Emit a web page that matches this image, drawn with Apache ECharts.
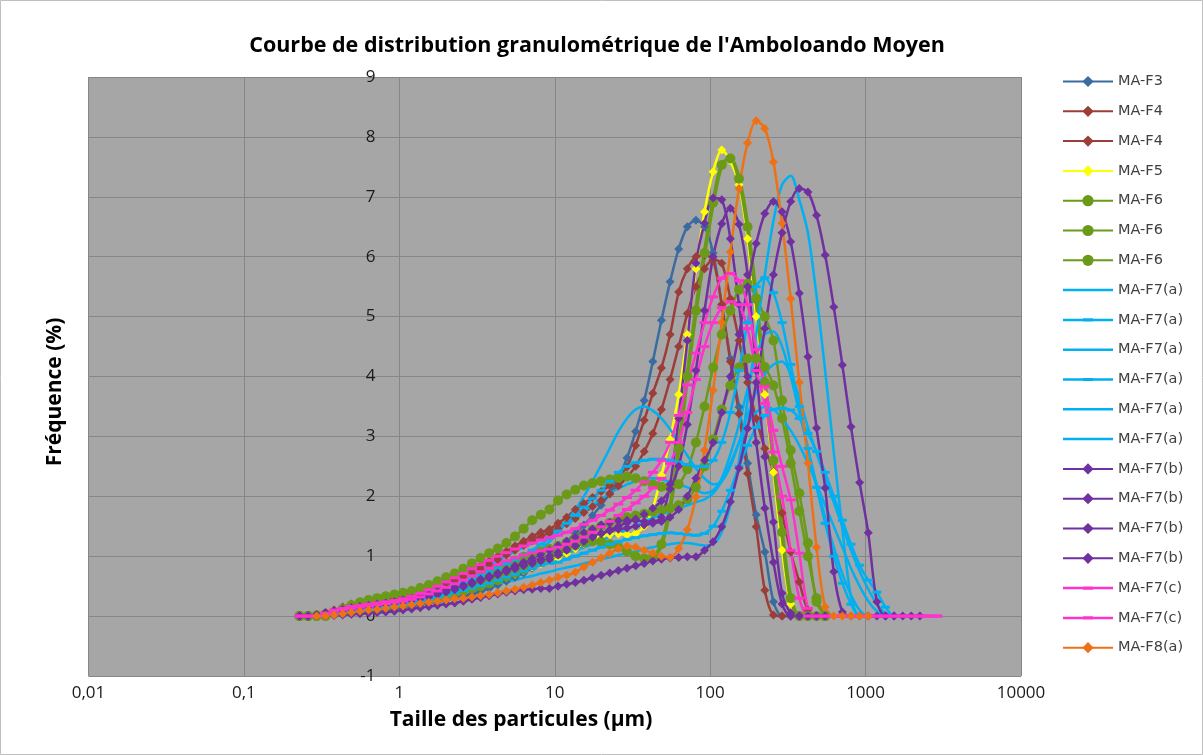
<!DOCTYPE html>
<html>
<head>
<meta charset="utf-8">
<script src="https://cdn.jsdelivr.net/npm/echarts@6.0.0/dist/echarts.min.js"></script>
<style>
  html, body { margin: 0; padding: 0; background: #ffffff; }
  #chart { width: 1203px; height: 755px; }
</style>
</head>
<body>
<div id="chart"></div>
<script>
// Particle size classes (µm), geometric bin centres, 0.228 µm -> 2887 µm
const sizes = [
  0.228, 0.259, 0.294, 0.335, 0.380, 0.432, 0.491, 0.558, 0.634, 0.720,
  0.818, 0.929, 1.056, 1.200, 1.363, 1.548, 1.759, 1.999, 2.271, 2.580,
  2.931, 3.331, 3.784, 4.299, 4.884, 5.549, 6.304, 7.163, 8.137, 9.245,
  10.50, 11.93, 13.56, 15.40, 17.50, 19.88, 22.59, 25.66, 29.16, 33.13,
  37.64, 42.76, 48.59, 55.21, 62.72, 71.27, 80.97, 91.99, 104.5, 118.7,
  134.9, 153.3, 174.1, 197.8, 224.8, 255.4, 290.1, 329.7, 374.6, 425.6,
  483.5, 549.4, 624.2, 709.2, 805.7, 915.4, 1040, 1182, 1343, 1525,
  1733, 1969, 2237, 2541, 2887
];

// Frequency (%) per size class, one array per sample
const maF3 = [
  0,0,0,0.01,0.02,0.03,0.04,0.05,0.06,0.08,
  0.1,0.12,0.15,0.17,0.19,0.22,0.24,0.27,0.3,0.33,
  0.37,0.41,0.46,0.52,0.58,0.65,0.72,0.8,0.9,1.0,
  1.12,1.25,1.38,1.52,1.68,1.85,2.05,2.3,2.64,3.08,
  3.6,4.25,4.94,5.58,6.13,6.5,6.61,6.5,6.06,5.2,
  4.3,3.49,2.55,1.69,1.07,0.24,0,0,0,0,
  0,0
];
const maF4a = [
  0,0,0.02,0.06,0.1,0.15,0.2,0.23,0.26,0.29,
  0.32,0.35,0.38,0.42,0.46,0.51,0.56,0.61,0.66,0.72,
  0.78,0.85,0.92,1.0,1.08,1.17,1.25,1.33,1.4,1.45,
  1.55,1.65,1.78,1.88,1.98,2.08,2.18,2.33,2.49,2.85,
  3.27,3.72,4.14,4.7,5.41,5.8,6.0,6.03,5.94,5.2,
  4.25,3.38,2.38,1.49,0.43,0.02,0,0,0,0,
  0,0
];
const maF4b = [
  0,0,0.01,0.04,0.08,0.12,0.16,0.19,0.22,0.25,
  0.28,0.31,0.34,0.37,0.41,0.45,0.5,0.55,0.6,0.66,
  0.72,0.79,0.86,0.94,1.02,1.1,1.18,1.26,1.33,1.39,
  1.46,1.54,1.63,1.73,1.83,1.93,2.04,2.17,2.32,2.5,
  2.75,3.05,3.45,3.95,4.5,5.05,5.5,5.8,5.95,5.89,
  5.3,4.6,3.9,3.3,2.8,2.41,1.72,1.07,0.57,0.1,
  0,0
];
const maF5 = [
  0,0,0,0.02,0.04,0.06,0.08,0.1,0.12,0.14,
  0.16,0.18,0.2,0.22,0.25,0.28,0.31,0.34,0.38,0.42,
  0.46,0.5,0.55,0.6,0.65,0.7,0.76,0.82,0.87,0.92,
  0.98,1.05,1.13,1.21,1.28,1.33,1.36,1.37,1.36,1.38,
  1.5,1.8,2.35,2.95,3.7,4.7,5.8,6.75,7.42,7.78,
  7.6,7.2,6.3,5.0,3.7,2.4,1.1,0.2,0,0,
  0,0
];
const maF6a = [
  0,0,0.01,0.03,0.05,0.07,0.09,0.11,0.13,0.15,
  0.17,0.19,0.21,0.24,0.27,0.3,0.33,0.36,0.39,0.42,
  0.46,0.5,0.55,0.6,0.66,0.72,0.78,0.85,0.9,0.96,
  1.04,1.12,1.18,1.23,1.25,1.24,1.2,1.15,1.08,1.0,
  0.96,0.98,1.2,1.8,2.8,4.0,5.1,6.06,6.9,7.53,
  7.64,7.3,6.5,5.3,3.9,2.6,1.4,0.3,0,0,
  0,0
];
const maF6b = [
  0,0,0,0,0.05,0.12,0.18,0.23,0.27,0.3,
  0.33,0.36,0.39,0.42,0.47,0.52,0.58,0.65,0.71,0.79,
  0.88,0.97,1.05,1.13,1.22,1.33,1.46,1.6,1.69,1.78,
  1.93,2.03,2.11,2.18,2.22,2.25,2.28,2.31,2.33,2.3,
  2.25,2.2,2.16,2.14,2.2,2.45,2.9,3.5,4.15,4.7,
  5.1,5.45,5.55,5.3,5.0,4.6,3.6,2.77,2.05,1.22,
  0.24,0
];
const maF6c = [
  0,0,0.01,0.03,0.05,0.08,0.1,0.12,0.14,0.16,
  0.18,0.2,0.23,0.26,0.29,0.33,0.37,0.42,0.47,0.53,
  0.59,0.65,0.72,0.79,0.86,0.93,0.99,1.04,1.08,1.12,
  1.17,1.23,1.3,1.37,1.44,1.5,1.56,1.61,1.65,1.68,
  1.71,1.74,1.77,1.8,1.85,1.95,2.15,2.5,2.95,3.45,
  3.85,4.15,4.3,4.3,4.16,3.85,3.3,2.55,1.75,1.0,
  0.3,0
];
const maF7a1 = [
  0,0,0,0.02,0.04,0.06,0.08,0.1,0.12,0.14,
  0.16,0.18,0.2,0.22,0.25,0.28,0.3,0.33,0.36,0.4,
  0.43,0.46,0.5,0.53,0.57,0.6,0.64,0.67,0.71,0.74,
  0.78,0.81,0.84,0.88,0.91,0.95,0.98,1.02,1.05,1.08,
  1.12,1.15,1.18,1.2,1.22,1.22,1.2,1.18,1.2,1.4,
  1.85,2.6,3.6,4.7,5.7,6.6,7.2,7.35,6.95,6.4,
  5.35,4.1,2.74,1.45,0.32,0,0,0
];
const maF7a2 = [
  0,0,0,0.02,0.05,0.08,0.1,0.12,0.14,0.16,
  0.18,0.21,0.24,0.27,0.31,0.35,0.4,0.45,0.5,0.56,
  0.62,0.68,0.74,0.8,0.87,0.94,1.02,1.1,1.2,1.3,
  1.42,1.55,1.68,1.82,1.96,2.1,2.25,2.4,2.5,2.56,
  2.6,2.62,2.62,2.6,2.57,2.53,2.5,2.5,2.6,2.9,
  3.4,4.1,4.9,5.5,5.65,5.4,4.9,4.2,3.5,2.8,
  2.15,1.55,1.0,0.55,0.2,0,0,0
];
const maF7a3 = [
  0,0,0.01,0.03,0.05,0.08,0.1,0.12,0.14,0.16,
  0.18,0.2,0.22,0.25,0.28,0.31,0.35,0.39,0.43,0.48,
  0.53,0.59,0.66,0.73,0.8,0.88,0.96,1.04,1.12,1.24,
  1.4,1.58,1.78,2.0,2.25,2.52,2.8,3.08,3.3,3.45,
  3.5,3.43,3.3,3.12,2.9,2.68,2.47,2.3,2.2,2.25,
  2.5,2.9,3.35,3.75,4.05,4.2,4.25,4.05,3.65,3.15,
  2.72,2.3,1.9,1.5,1.1,0.75,0.45,0.2,0.05,0,
  0
];
const maF7a4 = [
  0,0,0,0.02,0.04,0.06,0.08,0.1,0.12,0.14,
  0.16,0.18,0.2,0.23,0.26,0.29,0.32,0.35,0.39,0.43,
  0.47,0.51,0.55,0.6,0.65,0.7,0.75,0.8,0.85,0.88,
  0.9,0.95,1.0,1.05,1.1,1.15,1.2,1.24,1.28,1.31,
  1.34,1.36,1.38,1.39,1.38,1.36,1.35,1.38,1.5,1.75,
  2.1,2.5,2.85,3.15,3.35,3.45,3.47,3.44,3.3,3.05,
  2.75,2.4,2.0,1.6,1.2,0.85,0.6,0.4,0.15,0,
  0
];
const maF7a5 = [
  0,0,0,0.02,0.04,0.06,0.08,0.1,0.12,0.14,
  0.16,0.19,0.22,0.25,0.29,0.33,0.37,0.42,0.47,0.52,
  0.57,0.62,0.67,0.72,0.77,0.81,0.85,0.88,0.91,0.95,
  1.0,1.05,1.1,1.15,1.2,1.26,1.32,1.38,1.45,1.51,
  1.58,1.64,1.7,1.75,1.8,1.85,1.9,1.95,2.05,2.25,
  2.55,2.9,3.2,3.4,3.5,3.45,3.3,3.1,2.85,2.55,
  2.2,1.85,1.5,1.15,0.8,0.5,0.25,0.08,0,0,
  0
];
const maF7a6 = [
  0,0,0,0.03,0.06,0.09,0.12,0.15,0.18,0.2,
  0.22,0.25,0.28,0.31,0.35,0.4,0.45,0.51,0.57,0.64,
  0.71,0.78,0.85,0.93,1.0,1.08,1.15,1.22,1.29,1.35,
  1.44,1.53,1.62,1.74,1.85,1.95,2.05,2.13,2.2,2.25,
  2.3,2.3,2.28,2.24,2.2,2.15,2.1,2.05,2.1,2.3,
  2.7,3.2,3.8,4.35,4.7,4.75,4.5,4.0,3.4,2.8,
  2.2,1.65,1.15,0.7,0.35,0.1,0,0,0
];
const maF7b1 = [
  0,0,0.02,0.05,0.08,0.11,0.14,0.16,0.18,0.2,
  0.22,0.24,0.27,0.3,0.33,0.36,0.4,0.44,0.48,0.52,
  0.57,0.62,0.67,0.72,0.78,0.84,0.9,0.96,1.03,1.1,
  1.18,1.25,1.32,1.39,1.45,1.52,1.56,1.59,1.6,1.6,
  1.58,1.58,1.65,2.2,3.3,4.6,5.89,6.56,6.98,6.95,
  6.3,5.2,4.0,2.9,1.8,0.9,0.2,0,0,0,
  0,0
];
const maF7b2 = [
  0,0,0.02,0.05,0.08,0.11,0.13,0.15,0.17,0.19,
  0.21,0.23,0.25,0.28,0.31,0.34,0.38,0.42,0.46,0.5,
  0.55,0.6,0.65,0.7,0.75,0.8,0.85,0.9,0.95,1.0,
  1.06,1.12,1.18,1.25,1.32,1.38,1.44,1.5,1.56,1.62,
  1.7,1.8,1.92,2.12,2.5,3.2,4.1,5.1,6.0,6.55,
  6.81,6.54,5.7,4.1,2.66,1.57,0.38,0.05,0,0,
  0,0
];
const maF7b3 = [
  0,0,0.02,0.05,0.07,0.09,0.11,0.13,0.15,0.17,
  0.19,0.21,0.23,0.26,0.29,0.32,0.36,0.4,0.44,0.49,
  0.54,0.59,0.64,0.69,0.74,0.79,0.84,0.88,0.92,0.95,
  1.02,1.1,1.17,1.25,1.32,1.38,1.42,1.45,1.47,1.5,
  1.52,1.55,1.58,1.65,1.78,2.0,2.3,2.6,2.9,3.4,
  4.0,4.7,5.5,6.22,6.72,6.92,6.75,6.25,5.39,4.33,
  3.14,2.14,0.74,0.07,0,0,0,0,0,0
];
const maF7b4 = [
  0,0,0,0,0.01,0.02,0.03,0.04,0.05,0.06,
  0.07,0.08,0.1,0.12,0.14,0.16,0.18,0.2,0.22,0.25,
  0.28,0.31,0.34,0.37,0.4,0.42,0.44,0.45,0.46,0.46,
  0.5,0.53,0.56,0.6,0.64,0.68,0.72,0.76,0.8,0.84,
  0.88,0.92,0.95,0.97,0.98,0.99,0.99,1.1,1.24,1.49,
  1.91,2.47,3.13,3.9,4.8,5.7,6.4,6.92,7.14,7.08,
  6.69,6.03,5.16,4.19,3.16,2.23,1.39,0.24,0,0,
  0,0,0
];
const maF7c1 = [
  0,0,0,0.05,0.1,0.13,0.16,0.18,0.2,0.22,
  0.24,0.26,0.29,0.33,0.38,0.44,0.5,0.57,0.64,0.71,
  0.79,0.86,0.93,1.0,1.06,1.12,1.17,1.22,1.27,1.31,
  1.35,1.4,1.46,1.53,1.6,1.68,1.77,1.87,1.98,2.1,
  2.24,2.4,2.6,2.9,3.35,3.86,4.39,4.9,5.33,5.64,
  5.72,5.6,5.2,4.45,3.83,3.1,2.5,1.94,1.05,0.13,
  0,0,0,0,0,0,0,0,0,0,
  0,0,0,0,0
];
const maF7c2 = [
  0,0,0,0.04,0.08,0.11,0.13,0.15,0.17,0.19,
  0.21,0.23,0.25,0.28,0.32,0.37,0.42,0.48,0.54,0.6,
  0.67,0.74,0.8,0.86,0.92,0.97,1.02,1.06,1.09,1.12,
  1.15,1.2,1.25,1.32,1.4,1.49,1.58,1.68,1.78,1.89,
  2.0,2.14,2.3,2.55,2.9,3.4,3.95,4.5,4.9,5.15,
  5.25,5.2,4.8,4.1,3.55,2.74,2.0,1.1,0.3,0,
  0,0,0,0,0,0,0,0,0,0,
  0,0,0,0,0
];
const maF8a = [
  null,null,0,0,0.02,0.04,0.06,0.08,0.1,0.11,
  0.13,0.15,0.17,0.19,0.21,0.23,0.25,0.27,0.29,0.3,
  0.32,0.34,0.36,0.39,0.42,0.45,0.48,0.52,0.56,0.6,
  0.65,0.68,0.73,0.82,0.9,0.97,1.05,1.13,1.17,1.15,
  1.1,1.05,1.0,0.98,1.13,1.44,1.99,2.77,3.77,4.9,
  6.08,7.14,7.9,8.27,8.14,7.58,6.56,5.3,3.9,2.55,
  1.15,0.15,0,0,0,0,0
];

// Axis ticks
const yTicks = { min: -1, max: 9, step: 1 };
const xTicks = { min: 0.01, max: 10000 };

const FONT = 'Open Sans';
const LEGEND_FONT = 'DejaVu Sans';
const DASH = 'path://M0,0L10,0L10,3L0,3Z';
// Legend keys (50 x 14 box): plain line, and line with a short dash marker
const BOX = 'M0,0h0.05v0.05h-0.05Z M49.95,13.95h0.05v0.05h-0.05Z ';
const LINE_KEY = 'path://' + BOX + 'M0,5.75H50V8.25H0Z';
const DASH_KEY = 'path://' + BOX + 'M0,5.75H20V5.4H30V5.75H50V8.25H30V8.6H20V8.25H0Z';

// Drawing order and look of each sample curve (later ones are drawn on top)
const curves = [
  { name: 'MA-F3',    values: maF3,   color: '#3A6BA1', symbol: 'diamond', size: 9,  width: 2.5 },
  { name: 'MA-F4',    values: maF4a,  color: '#9C3D39', symbol: 'diamond', size: 9,  width: 2.5 },
  { name: 'MA-F4',    values: maF4b,  color: '#9C3D39', symbol: 'diamond', size: 9,  width: 2.5 },
  { name: 'MA-F5',    values: maF5,   color: '#FFFF00', symbol: 'diamond', size: 9,  width: 2.5 },
  { name: 'MA-F6',    values: maF6a,  color: '#6A9A18', symbol: 'circle',  size: 10, width: 4 },
  { name: 'MA-F6',    values: maF6b,  color: '#6A9A18', symbol: 'circle',  size: 10, width: 2.5 },
  { name: 'MA-F6',    values: maF6c,  color: '#6A9A18', symbol: 'circle',  size: 10, width: 2.5 },
  { name: 'MA-F7(a)', values: maF7a1, color: '#00B0F0', symbol: 'none',    size: 0,  width: 2.5 },
  { name: 'MA-F7(a)', values: maF7a2, color: '#00B0F0', symbol: DASH,      size: [9, 3], width: 2.5 },
  { name: 'MA-F7(a)', values: maF7a3, color: '#00B0F0', symbol: 'none',    size: 0,  width: 2.5 },
  { name: 'MA-F7(a)', values: maF7a4, color: '#00B0F0', symbol: DASH,      size: [9, 3], width: 2.5 },
  { name: 'MA-F7(a)', values: maF7a5, color: '#00B0F0', symbol: 'none',    size: 0,  width: 2.5 },
  { name: 'MA-F7(a)', values: maF7a6, color: '#00B0F0', symbol: 'none',    size: 0,  width: 2.5 },
  { name: 'MA-F7(b)', values: maF7b1, color: '#7030A0', symbol: 'diamond', size: 9,  width: 2.5 },
  { name: 'MA-F7(b)', values: maF7b2, color: '#7030A0', symbol: 'diamond', size: 9,  width: 2.5 },
  { name: 'MA-F7(b)', values: maF7b3, color: '#7030A0', symbol: 'diamond', size: 9,  width: 2.5 },
  { name: 'MA-F7(b)', values: maF7b4, color: '#7030A0', symbol: 'diamond', size: 9,  width: 2.5 },
  { name: 'MA-F7(c)', values: maF7c1, color: '#FF33CC', symbol: DASH,      size: [10, 3], width: 2.5 },
  { name: 'MA-F7(c)', values: maF7c2, color: '#FF33CC', symbol: DASH,      size: [10, 3], width: 2.5 },
  { name: 'MA-F8(a)', values: maF8a,  color: '#EE7116', symbol: 'diamond', size: 9,  width: 2.5 }
];

// Legend keys must be unique: repeated sample names get invisible suffixes
const seen = {};
const series = curves.map(c => {
  seen[c.name] = (seen[c.name] || 0) + 1;
  const key = c.name + '\u200b'.repeat(seen[c.name] - 1);
  return {
    type: 'line',
    name: key,
    data: c.values.map((v, i) => v === null ? null : [sizes[i], v]),
    smooth: 0.3,
    symbol: c.symbol,
    symbolSize: c.size,
    showSymbol: c.symbol !== 'none',
    lineStyle: { color: c.color, width: c.width },
    itemStyle: { color: c.color, borderWidth: 0 },
    emphasis: { disabled: true },
    animation: false
  };
});

const legendData = series.map((s, i) => {
  const sym = curves[i].symbol;
  if (sym === 'none') return { name: s.name, icon: LINE_KEY };
  if (sym === DASH) return { name: s.name, icon: DASH_KEY };
  return { name: s.name };
});

const chart = echarts.init(document.getElementById('chart'), null, { renderer: 'canvas' });
chart.setOption({
  backgroundColor: '#ffffff',
  animation: false,
  grid: {
    left: 88.5, right: 182, top: 77, bottom: 79,
    show: true, backgroundColor: '#A6A6A6', borderWidth: 0
  },
  legend: {
    orient: 'vertical',
    left: 1062,
    top: 74,
    padding: 0,
    itemWidth: 50,
    itemHeight: 14,
    itemGap: 14.8,
    symbolKeepAspect: false,
    selectedMode: false,
    formatter: n => n.replace(/\u200b/g, ''),
    textStyle: { fontFamily: LEGEND_FONT, fontSize: 14.5, color: '#404040', lineHeight: 14 },
    data: legendData
  },
  xAxis: {
    type: 'log',
    logBase: 10,
    min: xTicks.min,
    max: xTicks.max,
    axisLine: { show: true, onZero: true, lineStyle: { color: '#868686', width: 1 } },
    axisTick: { show: false },
    axisLabel: {
      fontFamily: FONT, fontSize: 17, color: '#1a1a1a', margin: 9,
      formatter: v => String(parseFloat(Number(v).toPrecision(6))).replace('.', ',')
    },
    splitLine: { show: true, lineStyle: { color: '#868686', width: 1 } }
  },
  yAxis: {
    type: 'value',
    min: yTicks.min,
    max: yTicks.max,
    interval: yTicks.step,
    axisLine: { show: false },
    axisTick: { show: false },
    axisLabel: { fontFamily: FONT, fontSize: 17, color: '#1a1a1a', margin: -287, align: 'right' },
    splitLine: { show: true, lineStyle: { color: '#868686', width: 1 } }
  },
  graphic: [
    {
      type: 'rect', silent: true, z: -10,
      shape: { x: 0.5, y: 0.5, width: 1202, height: 754 },
      style: { fill: 'none', stroke: '#BFBFBF', lineWidth: 1 }
    },
    {
      type: 'text', silent: true,
      x: 597, y: 46,
      style: {
        text: "Courbe de distribution granulométrique de l'Amboloando Moyen",
        fontFamily: FONT, fontSize: 21.5, fontWeight: 'bold',
        fill: '#000000', align: 'center', verticalAlign: 'middle'
      }
    },
    {
      type: 'text', silent: true,
      x: 55, y: 392, rotation: Math.PI / 2,
      style: {
        text: 'Fréquence (%)', fontFamily: FONT, fontSize: 21, fontWeight: 'bold',
        fill: '#000000', align: 'center', verticalAlign: 'middle'
      }
    },
    {
      type: 'text', silent: true,
      x: 521, y: 720,
      style: {
        text: 'Taille des particules (µm)', fontFamily: FONT, fontSize: 21, fontWeight: 'bold',
        fill: '#000000', align: 'center', verticalAlign: 'middle'
      }
    }
  ],
  series: series
});
</script>
</body>
</html>
